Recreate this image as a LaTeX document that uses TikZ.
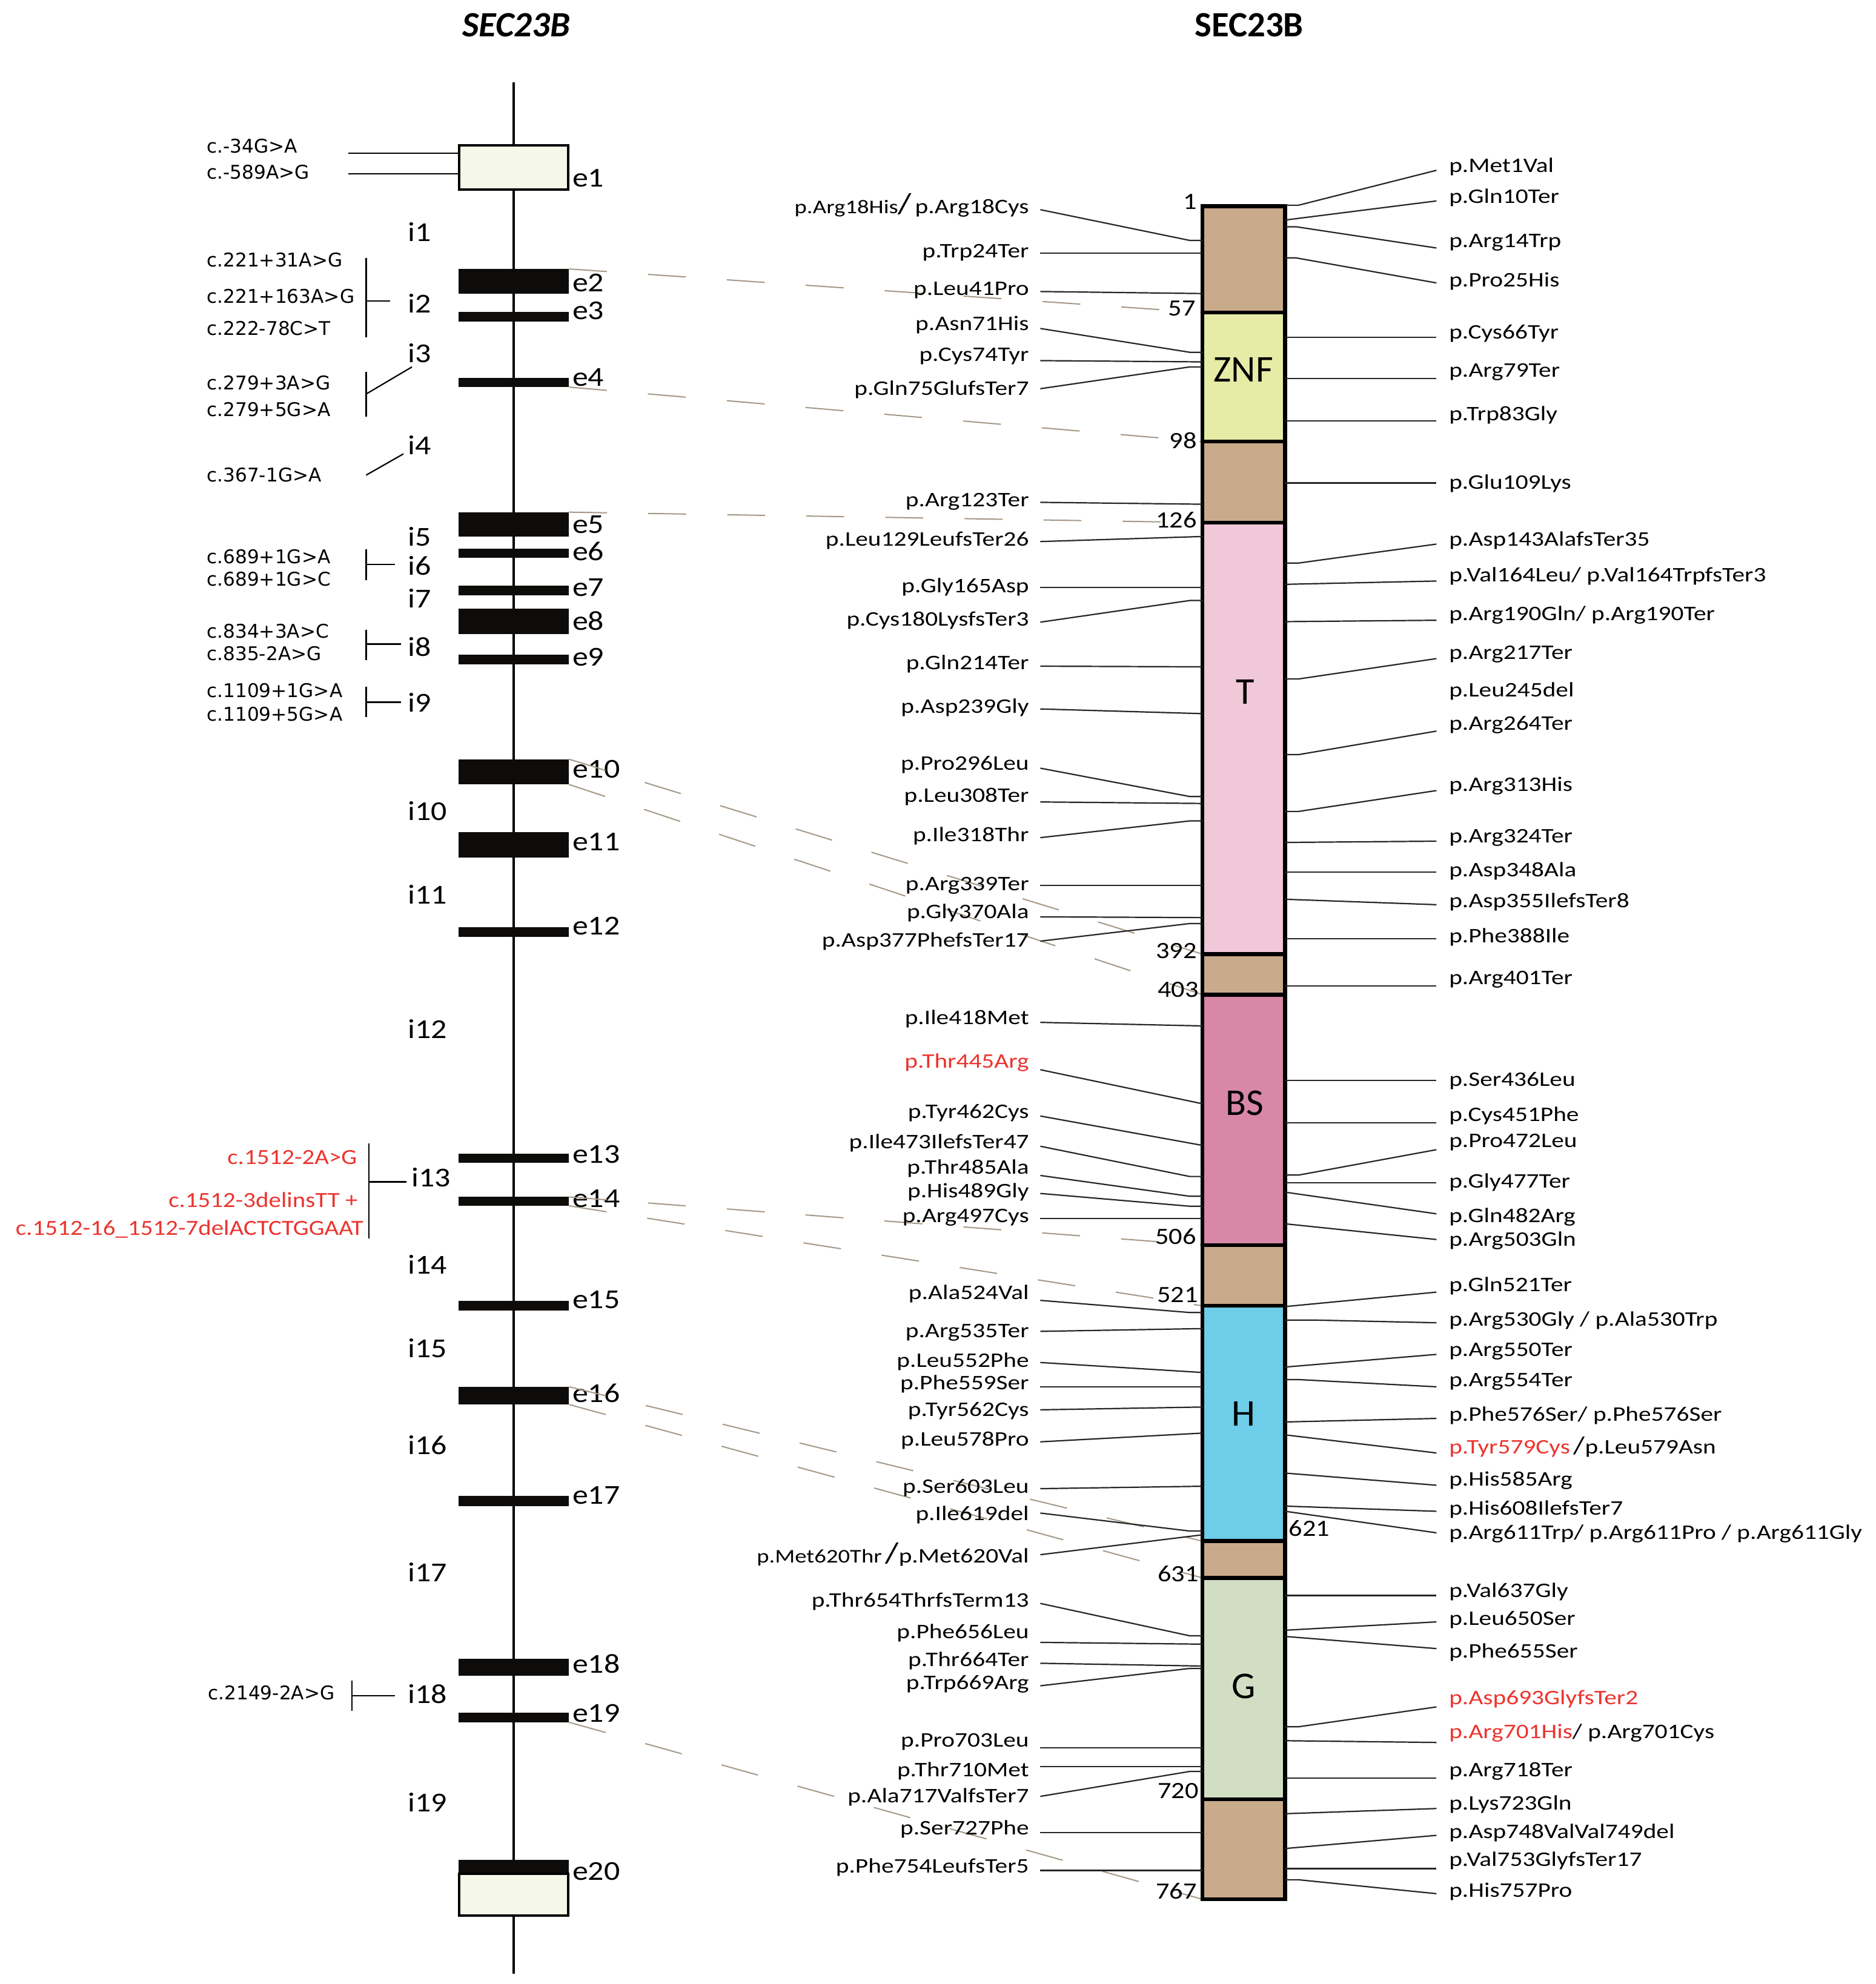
\documentclass[tikz,border=0pt]{standalone}
\usepackage{fontspec}
\setmainfont{Carlito}
\newfontfamily\labfont{Carlito}[FakeStretch=1.15]
\newfontfamily\pfont{Carlito}[FakeStretch=1.21]
\newfontfamily\cfont{DejaVu Sans}
\definecolor{myred}{RGB}{236,52,46}
\definecolor{tanc}{RGB}{201,171,140}
\definecolor{znfc}{RGB}{230,236,165}
\definecolor{tdomc}{RGB}{240,200,216}
\definecolor{bsc}{RGB}{216,135,166}
\definecolor{hc}{RGB}{110,205,232}
\definecolor{gc}{RGB}{210,222,196}
\definecolor{utrc}{RGB}{245,247,232}
\definecolor{linkc}{RGB}{165,152,135}
\definecolor{barc}{RGB}{14,12,10}

\begin{document}
\begin{tikzpicture}[x=0.02cm, y=-0.02cm,
    gene/.style={line width=1.1pt},
    exbar/.style={fill=barc, minimum width=1.746cm, inner sep=0, outer sep=0},
    utr/.style={draw, line width=1.1pt, fill=utrc, minimum width=1.72cm, inner sep=0, outer sep=0},
    dom/.style={draw, line width=1.8pt},
    conn/.style={line width=0.6pt, black!85},
    brk/.style={line width=0.6pt},
    exlink/.style={line width=0.55pt, linkc, dash pattern=on 0.6cm off 0.65cm},
    mlab/.style={font=\pfont\fontsize{9.3}{11}\selectfont, inner sep=0, outer xsep=0.18cm, anchor=east},
    rlab/.style={font=\pfont\fontsize{9.3}{11}\selectfont, inner sep=0, outer xsep=0.2cm, anchor=west},
    nlab/.style={font=\labfont\fontsize{10.5}{12}\selectfont, inner sep=0, anchor=east},
    eil/.style={font=\labfont\fontsize{12.3}{14}\selectfont, inner sep=0, anchor=west},
    clab/.style={font=\cfont\fontsize{8.5}{10}\selectfont, inner sep=0, anchor=west},
    redlab/.style={font=\labfont\fontsize{9.7}{11}\selectfont, text=myred, inner sep=0, anchor=east},
    dlab/.style={font=\fontsize{17}{20}\selectfont, inner sep=0},
    ttl/.style={font=\bfseries\fontsize{16}{19}\selectfont, inner sep=0}]

\useasboundingbox (0,0) rectangle (1482,1568);
\fill[white] (0,0) rectangle (1482,1568);

% titles
\node[ttl, font=\bfseries\itshape\fontsize{16}{19}\selectfont] (gtitle) at (408,20) {SEC23B};
\node[ttl] (ptitle) at (987,20) {SEC23B};

% gene with exons
\coordinate (gtop) at (406,65);
\coordinate (gbot) at (406,1560);
\draw[gene] (gtop) -- (gbot);

\node[utr, minimum height=0.7cm] (ex1) at (406,132.5) {};
\node[exbar, minimum height=0.39cm] (ex2) at (406,222.3) {};
\node[exbar, minimum height=0.15cm] (ex3) at (406,250.2) {};
\node[exbar, minimum height=0.15cm] (ex4) at (406,302.2) {};
\node[exbar, minimum height=0.39cm] (ex5) at (406,414.5) {};
\node[exbar, minimum height=0.15cm] (ex6) at (406,437.3) {};
\node[exbar, minimum height=0.15cm] (ex7) at (406,466.6) {};
\node[exbar, minimum height=0.4cm] (ex8) at (406,491) {};
\node[exbar, minimum height=0.15cm] (ex9) at (406,521.1) {};
\node[exbar, minimum height=0.4cm] (ex10) at (406,610) {};
\node[exbar, minimum height=0.4cm] (ex11) at (406,667.5) {};
\node[exbar, minimum height=0.16cm] (ex12) at (406,736.6) {};
\node[exbar, minimum height=0.15cm] (ex13) at (406,915.3) {};
\node[exbar, minimum height=0.14cm] (ex14) at (406,949.5) {};
\node[exbar, minimum height=0.15cm] (ex15) at (406,1031.8) {};
\node[exbar, minimum height=0.28cm] (ex16) at (406,1103) {};
\node[exbar, minimum height=0.16cm] (ex17) at (406,1186.2) {};
\node[exbar, minimum height=0.27cm] (ex18) at (406,1317.8) {};
\node[exbar, minimum height=0.15cm] (ex19) at (406,1357.4) {};
\node[exbar, minimum height=0.22cm] (ex20) at (406,1475.5) {};
\node[utr, minimum height=0.66cm] (ex20b) at (406,1497.5) {};

% exon and intron names
\node[eil] (le1) at (452,140.6) {e1};
\node[eil] (le2) at (452,223.5) {e2};
\node[eil] (le3) at (452,245.6) {e3};
\node[eil] (le4) at (452,298.3) {e4};
\node[eil] (le5) at (452,414.8) {e5};
\node[eil] (le6) at (452,435.9) {e6};
\node[eil] (le7) at (452,464.4) {e7};
\node[eil] (le8) at (452,490.6) {e8};
\node[eil] (le9) at (452,519.1) {e9};
\node[eil] (le10) at (452,608) {e10};
\node[eil] (le11) at (452,665.5) {e11};
\node[eil] (le12) at (452,732) {e12};
\node[eil] (le13) at (452,912.2) {e13};
\node[eil] (le14) at (452,947.3) {e14};
\node[eil] (le15) at (452,1027.2) {e15};
\node[eil] (le16) at (452,1101) {e16};
\node[eil] (le17) at (452,1182) {e17};
\node[eil] (le18) at (452,1315) {e18};
\node[eil] (le19) at (452,1353.8) {e19};
\node[eil] (le20) at (452,1479) {e20};

\node[eil] (in1) at (322,183.5) {i1};
\node[eil] (in2) at (322,239.6) {i2};
\node[eil] (in3) at (322,279) {i3};
\node[eil] (in4) at (322,352) {i4};
\node[eil] (in5) at (322,424) {i5};
\node[eil] (in6) at (322,447) {i6};
\node[eil] (in7) at (322,473) {i7};
\node[eil] (in8) at (322,511.4) {i8};
\node[eil] (in9) at (322,555) {i9};
\node[eil] (in10) at (322,641) {i10};
\node[eil] (in11) at (322,707) {i11};
\node[eil] (in12) at (322,813) {i12};
\node[eil] (in13) at (325,930.7) {i13};
\node[eil] (in14) at (322,999.4) {i14};
\node[eil] (in15) at (322,1065.5) {i15};
\node[eil] (in16) at (322,1142) {i16};
\node[eil] (in17) at (322,1242.6) {i17};
\node[eil] (in18) at (322,1338.6) {i18};
\node[eil] (in19) at (322,1424.4) {i19};

% intronic and UTR variants
\node[clab] (c34) at (163,115.4) {c.-34G>A};
\node[clab] (c589) at (163,136.2) {c.-589A>G};
\node[clab] (c221a) at (163,205.4) {c.221+31A>G};
\node[clab] (c221b) at (163,233.9) {c.221+163A>G};
\node[clab] (c222) at (163,259.7) {c.222-78C>T};
\node[clab] (c279a) at (163,302.7) {c.279+3A>G};
\node[clab] (c279b) at (163,323.5) {c.279+5G>A};
\node[clab] (c367) at (163,375.5) {c.367-1G>A};
\node[clab] (c689a) at (163,440) {c.689+1G>A};
\node[clab] (c689b) at (163,457.7) {c.689+1G>C};
\node[clab] (c834) at (163,498.6) {c.834+3A>C};
\node[clab] (c835) at (163,516.4) {c.835-2A>G};
\node[clab] (c1109a) at (163,545.6) {c.1109+1G>A};
\node[clab] (c1109b) at (163,564.4) {c.1109+5G>A};
\node[clab] (c2149) at (164,1338) {c.2149-2A>G};
\node[redlab] (c1512a) at (282.4,914.7) {c.1512-2A>G};
\node[redlab] (c1512b) at (283,948.2) {c.1512-3delinsTT +};
\node[redlab] (c1512c) at (287.4,971.6) {c.1512-16\_1512-7delACTCTGGAAT};

\coordinate (k34) at (275,121);
\coordinate (k589) at (275,137.2);
\draw[brk] (k34) -- (ex1.west |- k34);
\draw[brk] (k589) -- (ex1.west |- k589);

\draw[brk] (289.3,203.7) -- (289.3,266.4);
\draw[brk] (289.3,238) -- (308,238);
\draw[brk] (289.3,294) -- (289.3,329.5);
\draw[brk] (289.3,311.4) -- (325.5,290);
\draw[brk] (289.3,375.5) -- (318.8,358.7);
\draw[brk] (289.3,434) -- (289.3,458.7);
\draw[brk] (289.3,446) -- (312,446);
\draw[brk] (289.3,498) -- (289.3,521.5);
\draw[brk] (289.3,509) -- (317,509);
\draw[brk] (289.3,542.6) -- (289.3,566.8);
\draw[brk] (289.3,555) -- (317,555);
\draw[brk] (291.4,903.5) -- (291.4,978.6);
\draw[brk] (291.4,934) -- (321,934);
\draw[brk] (277.9,1328) -- (277.9,1352);
\draw[brk] (277.9,1340) -- (312,1340);

% protein
\coordinate (pl) at (950,0);
\coordinate (pr) at (1015.5,0);

% exon to protein links
\draw[exlink] (ex2.north east) -- (pl |- 0,247);
\draw[exlink] (ex4.south east) -- (pl |- 0,349);
\draw[exlink] (ex5.north east) -- (pl |- 0,413);
\draw[exlink] (ex10.north east) -- (pl |- 0,754);
\draw[exlink] (ex10.south east) -- (pl |- 0,786);
\draw[exlink] (ex14.north east) -- (pl |- 0,984);
\draw[exlink] (ex14.south east) -- (pl |- 0,1032);
\draw[exlink] (ex16.north east) -- (pl |- 0,1218);
\draw[exlink] (ex16.south east) -- (pl |- 0,1247);
\draw[exlink] (ex19.south east) -- (pl |- 0,1501);

\filldraw[dom, fill=tanc] (950,163) rectangle (1015.5,247);
\filldraw[dom, fill=znfc] (950,247) rectangle (1015.5,349);
\filldraw[dom, fill=tanc] (950,349) rectangle (1015.5,413);
\filldraw[dom, fill=tdomc] (950,413) rectangle (1015.5,754);
\filldraw[dom, fill=tanc] (950,754) rectangle (1015.5,786);
\filldraw[dom, fill=bsc] (950,786) rectangle (1015.5,984);
\filldraw[dom, fill=tanc] (950,984) rectangle (1015.5,1032);
\filldraw[dom, fill=hc] (950,1032) rectangle (1015.5,1218);
\filldraw[dom, fill=tanc] (950,1218) rectangle (1015.5,1247);
\filldraw[dom, fill=gc] (950,1247) rectangle (1015.5,1422);
\filldraw[dom, fill=tanc] (950,1422) rectangle (1015.5,1501);

\node[dlab] (znf) at (982.5,292.3) {ZNF};
\node[dlab] (tdom) at (984,547) {T};
\node[dlab] (bs) at (983.3,871.7) {BS};
\node[dlab] (hdom) at (982.5,1117.5) {H};
\node[dlab] (gdom) at (982.5,1332.6) {G};

\node[nlab] (n1) at (946,159.4) {1};
\node[nlab] (n57) at (945,243.7) {57};
\node[nlab] (n98) at (946,348) {98};
\node[nlab] (n126) at (946,411) {126};
\node[nlab] (n392) at (946,751.3) {392};
\node[nlab] (n403) at (947.5,782) {403};
\node[nlab] (n506) at (945.6,977) {506};
\node[nlab] (n521) at (947,1023.4) {521};
\node[nlab, anchor=west] (n621) at (1018,1208) {621};
\node[nlab] (n631) at (947.5,1243.9) {631};
\node[nlab] (n720) at (947.5,1415.5) {720};
\node[nlab] (n767) at (946,1494.4) {767};

% variants, left of the protein
\node[mlab] (m18) at (822,162.4) {{\fontsize{8.7}{9}\selectfont p.Arg18His}{\fontsize{13}{13}\selectfont /}\,p.Arg18Cys};
\node[mlab] (m24) at (822,199.5) {p.Trp24Ter};
\node[mlab] (m41) at (822,229.4) {p.Leu41Pro};
\node[mlab] (m71) at (822,256.6) {p.Asn71His};
\node[mlab] (m74) at (822,281.4) {p.Cys74Tyr};
\node[mlab] (m75) at (822,308) {p.Gln75GlufsTer7};
\node[mlab] (m123) at (822,396.5) {p.Arg123Ter};
\node[mlab] (m129) at (822,427) {p.Leu129LeufsTer26};
\node[mlab] (m165) at (822,463.9) {p.Gly165Asp};
\node[mlab] (m180) at (822,490.6) {p.Cys180LysfsTer3};
\node[mlab] (m214) at (822,524.8) {p.Gln214Ter};
\node[mlab] (m239) at (822,559) {p.Asp239Gly};
\node[mlab] (m296) at (822,604.3) {p.Pro296Leu};
\node[mlab] (m308) at (822,629.5) {p.Leu308Ter};
\node[mlab] (m318) at (822,660.5) {p.Ile318Thr};
\node[mlab] (m339) at (822,700) {p.Arg339Ter};
\node[mlab] (m370) at (822,721.4) {p.Gly370Ala};
\node[mlab] (m377) at (822,743.8) {p.Asp377PhefsTer17};
\node[mlab] (m418) at (822,805.4) {p.Ile418Met};
\node[mlab, text=myred] (m445) at (822,839.6) {p.Thr445Arg};
\node[mlab] (m462) at (822,879.8) {p.Tyr462Cys};
\node[mlab] (m473) at (822,903.3) {p.Ile473IlefsTer47};
\node[mlab] (m485) at (822,923.6) {p.Thr485Ala};
\node[mlab] (m489) at (822,942.2) {p.His489Gly};
\node[mlab] (m497) at (822,962) {p.Arg497Cys};
\node[mlab] (m524) at (822,1022.3) {p.Ala524Val};
\node[mlab] (m535) at (822,1053.3) {p.Arg535Ter};
\node[mlab] (m552) at (822,1076.2) {p.Leu552Phe};
\node[mlab] (m559) at (822,1093.9) {p.Phe559Ser};
\node[mlab] (m562) at (822,1115.3) {p.Tyr562Cys};
\node[mlab] (m578) at (822,1138.6) {p.Leu578Pro};
\node[mlab] (m603) at (822,1175.7) {p.Ser603Leu};
\node[mlab] (m619) at (822,1197) {p.Ile619del};
\node[mlab] (m620) at (822,1228.7) {{\fontsize{8.7}{9}\selectfont p.Met620Thr}\,{\fontsize{13}{13}\selectfont /}p.Met620Val};
\node[mlab] (m654) at (822,1265.8) {p.Thr654ThrfsTerm13};
\node[mlab] (m656) at (822,1290.6) {p.Phe656Leu};
\node[mlab] (m664) at (822,1312.5) {p.Thr664Ter};
\node[mlab] (m669) at (822,1331.2) {p.Trp669Arg};
\node[mlab] (m703) at (822,1376.5) {p.Pro703Leu};
\node[mlab] (m710) at (822,1399.9) {p.Thr710Met};
\node[mlab] (m717) at (822,1420.5) {p.Ala717ValfsTer7};
\node[mlab] (m727) at (822,1445.8) {p.Ser727Phe};
\node[mlab] (m754) at (822,1476) {p.Phe754LeufsTer5};

\draw[conn] (m18.east |- 0,165.7) -- (940,190) -- (pl |- 0,190);
\draw[conn] (m24.east |- 0,200) -- (pl |- 0,200);
\draw[conn] (m41.east |- 0,230.4) -- (pl |- 0,232);
\draw[conn] (m71.east |- 0,259.6) -- (940,278.4) -- (pl |- 0,278.4);
\draw[conn] (m74.east |- 0,285) -- (pl |- 0,286);
\draw[conn] (m75.east |- 0,307.2) -- (940,290) -- (pl |- 0,290);
\draw[conn] (m123.east |- 0,397) -- (pl |- 0,398.5);
\draw[conn] (m129.east |- 0,428) -- (pl |- 0,424);
\draw[conn] (m165.east |- 0,464.3) -- (pl |- 0,464.3);
\draw[conn] (m180.east |- 0,491.7) -- (940,474.6) -- (pl |- 0,474.6);
\draw[conn] (m214.east |- 0,526.5) -- (pl |- 0,527);
\draw[conn] (m239.east |- 0,560.3) -- (pl |- 0,564);
\draw[conn] (m296.east |- 0,607.1) -- (940,629.5) -- (pl |- 0,629.5);
\draw[conn] (m308.east |- 0,633.8) -- (pl |- 0,635);
\draw[conn] (m318.east |- 0,662) -- (940,648.8) -- (pl |- 0,648.8);
\draw[conn] (m339.east |- 0,699.6) -- (pl |- 0,699.6);
\draw[conn] (m370.east |- 0,724.6) -- (pl |- 0,725.2);
\draw[conn] (m377.east |- 0,743.8) -- (940,729.9) -- (pl |- 0,729.9);
\draw[conn] (m418.east |- 0,808) -- (pl |- 0,810.8);
\draw[conn] (m445.east |- 0,845.4) -- (pl |- 0,872.3);
\draw[conn] (m462.east |- 0,882) -- (pl |- 0,905.2);
\draw[conn] (m473.east |- 0,905.9) -- (940,929.8) -- (pl |- 0,929.8);
\draw[conn] (m485.east |- 0,929) -- (940,945.4) -- (pl |- 0,945.4);
\draw[conn] (m489.east |- 0,943.2) -- (940,953.3) -- (pl |- 0,953.3);
\draw[conn] (m497.east |- 0,962.9) -- (pl |- 0,962.9);
\draw[conn] (m524.east |- 0,1027.7) -- (940,1037.3) -- (pl |- 0,1037.3);
\draw[conn] (m535.east |- 0,1052.2) -- (pl |- 0,1050);
\draw[conn] (m552.east |- 0,1076.8) -- (pl |- 0,1084.7);
\draw[conn] (m559.east |- 0,1096) -- (pl |- 0,1096);
\draw[conn] (m562.east |- 0,1114.2) -- (pl |- 0,1112);
\draw[conn] (m578.east |- 0,1139.5) -- (pl |- 0,1132.6);
\draw[conn] (m603.east |- 0,1176.5) -- (pl |- 0,1174.6);
\draw[conn] (m619.east |- 0,1195.8) -- (940,1210) -- (pl |- 0,1210);
\draw[conn] (m620.east |- 0,1228.7) -- (pl |- 0,1213);
\draw[conn] (m654.east |- 0,1267.2) -- (940,1292.8) -- (pl |- 0,1292.8);
\draw[conn] (m656.east |- 0,1298) -- (pl |- 0,1299.4);
\draw[conn] (m664.east |- 0,1314.5) -- (pl |- 0,1316.7);
\draw[conn] (m669.east |- 0,1332.3) -- (940,1318.6) -- (pl |- 0,1318.6);
\draw[conn] (m703.east |- 0,1381.2) -- (pl |- 0,1381.2);
\draw[conn] (m710.east |- 0,1396.3) -- (pl |- 0,1396.3);
\draw[conn] (m717.east |- 0,1419.7) -- (940,1400) -- (pl |- 0,1400);
\draw[conn] (m727.east |- 0,1448.5) -- (pl |- 0,1448.5);
\draw[conn] (m754.east |- 0,1478.2) -- (pl |- 0,1478.2);

% variants, right of the protein
\node[rlab] (r1) at (1135,131.6) {p.Met1Val};
\node[rlab] (r10) at (1135,156.1) {p.Gln10Ter};
\node[rlab] (r14) at (1135,191.5) {p.Arg14Trp};
\node[rlab] (r25) at (1135,222.2) {p.Pro25His};
\node[rlab] (r66) at (1135,263.5) {p.Cys66Tyr};
\node[rlab] (r79) at (1135,294.1) {p.Arg79Ter};
\node[rlab] (r83) at (1135,327.9) {p.Trp83Gly};
\node[rlab] (r109) at (1135,382.1) {p.Glu109Lys};
\node[rlab] (r143) at (1135,427) {p.Asp143AlafsTer35};
\node[rlab] (r164) at (1135,455.4) {p.Val164Leu/ p.Val164TrpfsTer3};
\node[rlab] (r190) at (1135,486) {p.Arg190Gln/ p.Arg190Ter};
\node[rlab] (r217) at (1135,517.3) {p.Arg217Ter};
\node[rlab] (r245) at (1135,546.2) {p.Leu245del};
\node[rlab] (r264) at (1135,572.9) {p.Arg264Ter};
\node[rlab] (r313) at (1135,621) {p.Arg313His};
\node[rlab] (r324) at (1135,662) {p.Arg324Ter};
\node[rlab] (r348) at (1135,688.3) {p.Asp348Ala};
\node[rlab] (r355) at (1135,712.9) {p.Asp355IlefsTer8};
\node[rlab] (r388) at (1135,740.6) {p.Phe388Ile};
\node[rlab] (r401) at (1135,774) {p.Arg401Ter};
\node[rlab] (r436) at (1135,854) {p.Ser436Leu};
\node[rlab] (r451) at (1135,881.7) {p.Cys451Phe};
\node[rlab] (r472) at (1135,903) {p.Pro472Leu};
\node[rlab] (r477) at (1135,934.3) {p.Gly477Ter};
\node[rlab] (r482) at (1135,962) {p.Gln482Arg};
\node[rlab] (r503) at (1135,980.6) {p.Arg503Gln};
\node[rlab] (r521) at (1135,1016.3) {p.Gln521Ter};
\node[rlab] (r530) at (1135,1043.7) {p.Arg530Gly / p.Ala530Trp};
\node[rlab] (r550) at (1135,1068.2) {p.Arg550Ter};
\node[rlab] (r554) at (1135,1091.8) {p.Arg554Ter};
\node[rlab] (r576) at (1135,1118.9) {p.Phe576Ser/ p.Phe576Ser};
\node[rlab] (r579) at (1135,1143.6) {\textcolor{myred}{p.Tyr579Cys}\,{\fontsize{11}{11}\selectfont /}p.Leu579Asn};
\node[rlab] (r585) at (1135,1170.2) {p.His585Arg};
\node[rlab] (r608) at (1135,1193) {p.His608IlefsTer7};
\node[rlab] (r611) at (1135,1212.3) {p.Arg611Trp/ p.Arg611Pro / p.Arg611Gly};
\node[rlab] (r637) at (1135,1258.1) {p.Val637Gly};
\node[rlab] (r650) at (1135,1280.1) {p.Leu650Ser};
\node[rlab] (r655) at (1135,1305.7) {p.Phe655Ser};
\node[rlab, text=myred] (r693) at (1135,1342.8) {p.Asp693GlyfsTer2};
\node[rlab] (r701) at (1135,1369.7) {\textcolor{myred}{p.Arg701His}/ p.Arg701Cys};
\node[rlab] (r718) at (1135,1399.9) {p.Arg718Ter};
\node[rlab] (r723) at (1135,1426) {p.Lys723Gln};
\node[rlab] (r748) at (1135,1448.5) {p.Asp748ValVal749del};
\node[rlab] (r753) at (1135,1470.5) {p.Val753GlyfsTer17};
\node[rlab] (r757) at (1135,1495.2) {p.His757Pro};

\draw[conn] (pr |- 0,162.2) -- (1026,162.2) -- (r1.west |- 0,134.6);
\draw[conn] (pr |- 0,173.9) -- (r10.west |- 0,158.8);
\draw[conn] (pr |- 0,179.2) -- (1024,179.2) -- (r14.west |- 0,196);
\draw[conn] (pr |- 0,203.8) -- (1024,203.8) -- (r25.west |- 0,223.6);
\draw[conn] (pr |- 0,266.5) -- (r66.west |- 0,266.5);
\draw[conn] (pr |- 0,299.3) -- (r79.west |- 0,299.3);
\draw[conn] (pr |- 0,332.6) -- (r83.west |- 0,332.6);
\draw[conn] (pr |- 0,381.7) -- (r109.west |- 0,381.7);
\draw[conn] (pr |- 0,445) -- (1026,445) -- (r143.west |- 0,430);
\draw[conn] (pr |- 0,461.8) -- (r164.west |- 0,459.2);
\draw[conn] (pr |- 0,491.3) -- (r190.west |- 0,490.2);
\draw[conn] (pr |- 0,536.6) -- (1026,536.6) -- (r217.west |- 0,520.5);
\draw[conn] (pr |- 0,596.4) -- (1026,596.4) -- (r264.west |- 0,577.8);
\draw[conn] (pr |- 0,641.3) -- (1026,641.3) -- (r313.west |- 0,624.8);
\draw[conn] (pr |- 0,665.8) -- (r324.west |- 0,664.8);
\draw[conn] (pr |- 0,689.3) -- (r348.west |- 0,689.3);
\draw[conn] (pr |- 0,710.7) -- (r355.west |- 0,715);
\draw[conn] (pr |- 0,741.7) -- (r388.west |- 0,741.7);
\draw[conn] (pr |- 0,779.1) -- (r401.west |- 0,779.1);
\draw[conn] (pr |- 0,854) -- (r436.west |- 0,854);
\draw[conn] (pr |- 0,887.3) -- (r451.west |- 0,887.3);
\draw[conn] (pr |- 0,928.7) -- (1026,928.7) -- (r472.west |- 0,908.6);
\draw[conn] (pr |- 0,934.7) -- (r477.west |- 0,934.7);
\draw[conn] (pr |- 0,942.2) -- (r482.west |- 0,959.3);
\draw[conn] (pr |- 0,967.2) -- (r503.west |- 0,979.6);
\draw[conn] (pr |- 0,1032.6) -- (r521.west |- 0,1021.2);
\draw[conn] (pr |- 0,1043.3) -- (1040,1043.3) -- (r530.west |- 0,1045.4);
\draw[conn] (pr |- 0,1080.4) -- (r550.west |- 0,1070.4);
\draw[conn] (pr |- 0,1090.3) -- (1026,1090.3) -- (r554.west |- 0,1096);
\draw[conn] (pr |- 0,1123.8) -- (r576.west |- 0,1121);
\draw[conn] (pr |- 0,1134) -- (r579.west |- 0,1148.3);
\draw[conn] (pr |- 0,1164.2) -- (r585.west |- 0,1173.8);
\draw[conn] (pr |- 0,1190.3) -- (r608.west |- 0,1194.4);
\draw[conn] (pr |- 0,1194.4) -- (r611.west |- 0,1211.4);
\draw[conn] (pr |- 0,1260.9) -- (r637.west |- 0,1260.9);
\draw[conn] (pr |- 0,1288.4) -- (r650.west |- 0,1281.8);
\draw[conn] (pr |- 0,1293.3) -- (r655.west |- 0,1302.9);
\draw[conn] (pr |- 0,1364.7) -- (1026,1364.7) -- (r693.west |- 0,1349);
\draw[conn] (pr |- 0,1375.7) -- (r701.west |- 0,1377.1);
\draw[conn] (pr |- 0,1405.4) -- (r718.west |- 0,1405.4);
\draw[conn] (pr |- 0,1433.4) -- (r723.west |- 0,1429.3);
\draw[conn] (pr |- 0,1460.9) -- (r748.west |- 0,1450.5);
\draw[conn] (pr |- 0,1476.8) -- (r753.west |- 0,1476.8);
\draw[conn] (pr |- 0,1485.6) -- (1026,1485.6) -- (r757.west |- 0,1496.6);
\end{tikzpicture}
\end{document}
